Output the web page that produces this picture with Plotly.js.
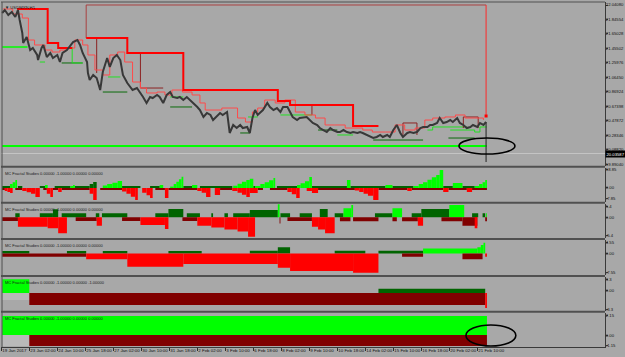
<!DOCTYPE html>
<html><head><meta charset="utf-8">
<script src="https://cdn.plot.ly/plotly-3.0.1.min.js"></script>
<style>html,body{margin:0;padding:0;background:#a8a8a8;}#chart{width:625px;height:357px;}</style>
</head><body><div id="chart"></div>
<script>
// ---- time axis (H1 bar index) ----
const tickHours = [0,32,64,96,128,160,192,224,256,288,320,352,384,416,448,480,512,544];
const tickLabels = ["19 Jan 2017","23 Jan 02:00","24 Jan 10:00","25 Jan 18:00","27 Jan 02:00","30 Jan 10:00","31 Jan 18:00","2 Feb 02:00","3 Feb 10:00","6 Feb 18:00","8 Feb 02:00","9 Feb 10:00","10 Feb 18:00","14 Feb 02:00","15 Feb 10:00","16 Feb 18:00","20 Feb 02:00","21 Feb 10:00"];

// ---- main price panel ----
const priceTickVals = [22.0408,21.84554,21.65028,21.45502,21.25976,21.0645,20.86924,20.67398,20.47872,20.28346,20.0882,19.8904];
const priceTickText = ["22.04080","21.84554","21.65028","21.45502","21.25976","21.06450","20.86924","20.67398","20.47872","20.28346","20.08820","19.89040"];
const priceHour = [1,4,8,12,16,18,19,21,24,25,29,33,36,41,42,46,48,52,56,59,64,67,70,75,79,82,87,90,93,98,99,101,105,109,113,116,121,124,128,132,136,139,144,147,150,155,159,162,166,170,173,178,181,185,189,193,196,201,204,208,212,216,219,224,227,231,235,239,242,247,250,253,258,261,265,269,273,276,281,284,287,290,293,299,304,307,311,315,319,322,327,330,333,338,341,349,353,356,361,364,368,372,376,379,384,387,391,395,399,402,407,410,413,418,421,425,429,433,436,441,444,448,452,456,459,464,467,471,475,479,482,487,490,493,498,501,505,509,513,516,521,524,528,532,536,539,544,547,551,554];
const priceClose = [21.933,21.973,21.906,21.946,21.879,21.946,21.973,21.838,21.663,21.528,21.609,21.433,21.460,21.366,21.298,21.460,21.501,21.339,21.393,21.325,21.366,21.271,21.393,21.433,21.501,21.541,21.568,21.501,21.393,21.271,21.123,21.028,21.096,21.055,20.893,21.136,21.325,21.204,21.325,21.366,21.298,21.096,20.988,20.934,20.893,20.920,20.853,20.799,20.718,20.799,20.785,20.826,20.799,20.718,20.826,20.866,20.799,20.785,20.799,20.758,20.799,20.758,20.718,20.664,20.623,20.529,20.583,20.556,20.488,20.556,20.583,20.556,20.596,20.313,20.421,20.380,20.421,20.380,20.394,20.313,20.515,20.623,20.556,20.623,20.718,20.664,20.623,20.650,20.596,20.664,20.664,20.596,20.529,20.488,20.515,20.529,20.488,20.448,20.421,20.380,20.353,20.326,20.380,20.353,20.326,20.326,20.353,20.326,20.313,20.326,20.313,20.326,20.313,20.286,20.259,20.245,20.259,20.286,20.259,20.286,20.259,20.353,20.421,20.313,20.259,20.313,20.326,20.313,20.326,20.380,20.394,20.394,20.421,20.421,20.448,20.515,20.448,20.461,20.488,20.461,20.515,20.448,20.421,20.380,20.394,20.421,20.394,20.448,20.421,20.461];
const lastBarHour = [554,554];
const lastBarRange = [20.461,19.921];
const bidPrice = 20.03587;

const upperMajorHour = [18,53,65,81,81,97,144,208,316,330,402,431];
const upperMajorLevel = [21.987,21.528,21.460,21.460,null,21.595,21.393,20.893,20.745,20.691,20.407,20.407];
const upperTopHour = [97,97,554];
const upperTopLevel = [21.595,22.041,22.041];
const upperLastHour = [554,554];
const upperLastLevel = [22.041,20.556];
const upperMinorHour = [2,13,24,31,38,50,58,67,75,84,93,99,107,116,124,133,141,150,159,166,178,187,195,207,218,227,233,242,252,259,270,279,287,293,301,313,324,336,347,359,370,381,393,404,413,424,439,450,461,473,484,493,507,519,530,541,551];
const upperMinorLevel = [21.987,21.919,21.865,21.568,21.501,21.433,21.406,21.433,21.460,21.568,21.501,21.366,21.163,21.096,21.366,21.406,21.271,21.001,20.920,20.853,20.866,20.826,20.893,20.866,20.826,20.718,20.623,20.623,20.650,20.650,20.515,20.461,20.596,20.650,20.758,20.718,20.758,20.596,20.556,20.515,20.421,20.421,20.380,20.380,20.353,20.326,20.326,20.421,20.353,20.380,20.488,20.515,20.529,20.556,20.515,20.515,20.488];
const upperDarkHour = [109,109,null,159,159,185,null,355,355,null,459,459,475,475,null,528,528,545,545];
const upperDarkLevel = [21.595,21.123,null,21.393,20.920,20.920,null,20.691,20.556,null,20.286,20.448,20.448,20.286,null,20.380,20.529,20.529,20.380];

const lowerMajorHour = [1,555];
const lowerMajorLevel = [20.137,20.137];
const lowerEarlyHour = [1,30];
const lowerEarlyLevel = [21.474,21.474];
const lowerMinorHour = [44,50,null,81,81,93,null,122,136,null,193,208,null,282,293,null,319,355,null,384,402,null,487,493,532,null,513,539,541,547,555];
const lowerMinorLevel = [21.271,21.271,null,21.474,21.258,21.258,null,21.069,21.069,null,20.799,20.799,null,20.529,20.529,null,20.556,20.556,null,20.286,20.286,null,20.353,20.394,20.394,null,20.353,20.353,20.326,20.394,20.394];
const lowerDarkHour = [69,93,null,116,144,null,193,218,null,273,284,null,362,384,null,425,482,null,511,541];
const lowerDarkLevel = [21.258,21.258,null,20.866,20.866,null,20.664,20.664,null,20.313,20.313,null,20.353,20.353,null,20.218,20.218,null,20.245,20.245];

// ---- indicator panels: [startHour, endHour, value] ----
const p1DarkGreen = [[1,10,2.1],[19,24,2.1],[44,50,2.1],[61,79,2.1],[84,101,2.1],[101,105,4.0],[105,109,6.2],[138,159,2.1],[170,181,2.1],[208,218,2.1],[227,264,2.1],[288,290,2.1],[315,338,2.1],[355,395,2.1],[399,439,2.1],[447,471,2.1],[505,516,2.1],[527,541,2.1]];
const p1Green = [[10,13,4.0],[13,16,6.0],[16,18,8.2],[50,53,3.1],[79,82,2.1],[82,84,3.1],[116,121,2.5],[121,127,4.0],[127,133,5.5],[133,138,7.2],[181,185,3.1],[193,197,1.5],[197,200,4.0],[200,203,6.5],[203,206,9.0],[206,208,11.6],[218,224,3.1],[265,270,2.4],[270,275,4.5],[275,280,6.5],[280,284,8.2],[284,288,9.5],[290,296,2.1],[296,301,4.0],[301,306,6.0],[306,311,8.0],[311,313,10.3],[338,342,3.1],[342,347,5.0],[347,352,7.0],[352,355,11.3],[395,399,8.2],[439,447,3.1],[471,477,2.1],[477,482,4.0],[482,487,6.0],[487,492,8.5],[492,497,11.0],[497,501,13.5],[501,505,18.5],[516,527,5.2],[541,546,2.1],[546,550,4.0],[550,553,6.0],[553,555,8.2]];
const p1DarkRed = [[1,4,-2.1],[16,24,-2.1],[48,52,-2.1],[59,65,-2.1],[69,101,-2.1],[113,138,-2.1],[176,187,-2.1],[191,224,-2.1],[250,264,-2.1],[293,299,-2.1],[307,327,-2.1],[362,404,-2.1],[431,464,-2.1],[469,505,-2.1],[511,532,-2.1],[538,555,-2.1]];
const p1Red = [[4,7,-3.0],[7,10,-4.0],[10,13,-5.2],[24,29,-3.0],[29,34,-4.5],[34,39,-6.0],[39,44,-9.3],[52,56,-6.0],[56,59,-9.3],[65,69,-4.1],[101,105,-6.0],[105,109,-12.4],[138,143,-3.5],[143,148,-6.0],[148,153,-9.0],[153,156,-12.4],[161,166,-5.0],[166,170,-7.5],[170,173,-10.3],[187,191,-10.3],[224,229,-3.0],[229,234,-5.0],[234,239,-9.3],[244,250,-7.2],[264,270,-3.0],[270,275,-5.0],[275,280,-7.0],[280,284,-9.3],[284,293,-5.2],[327,332,-4.0],[332,337,-6.5],[337,341,-10.3],[349,355,-3.0],[355,362,-5.2],[404,409,-2.5],[409,414,-4.0],[414,419,-6.0],[419,425,-8.0],[425,431,-12.4],[464,469,-3.1],[505,511,-4.1],[532,538,-4.1]];

const p2DarkGreen = [[16,21,2.0],[44,59,2.0],[59,65,3.9],[69,97,2.0],[108,112,2.0],[115,144,2.0],[176,191,2.0],[191,208,4.0],[212,227,2.0],[240,242,2.0],[255,259,2.0],[265,284,2.0],[284,316,3.6],[319,330,2.0],[341,355,2.0],[364,373,4.0],[381,391,2.0],[427,447,2.0],[469,480,2.0],[480,512,4.0],[538,545,2.0],[550,553,2.0]];
const p2Green = [[316,318,6.4],[391,400,4.4],[400,402,6.0],[447,458,4.4],[512,529,6.0],[554,555,2.0]];
const p2DarkRed = [[1,19,-1.8],[85,109,-1.8],[138,159,-1.8],[207,224,-1.8],[318,319,-3.0],[327,355,-1.8],[387,399,-2.0],[402,431,-2.0],[447,452,-2.0],[458,476,-2.0],[503,527,-2.0],[527,544,-4.1],[553,555,-2.0]];
const p2Red = [[19,53,-4.6],[53,65,-5.4],[65,75,-7.8],[109,115,-4.1],[159,187,-3.8],[187,191,-5.7],[224,240,-4.1],[240,255,-5.0],[255,270,-6.0],[270,282,-7.0],[282,290,-9.5],[355,362,-4.6],[362,370,-6.0],[370,381,-7.8],[476,482,-4.1],[541,544,-5.4]];

const p3DarkGreen = [[1,32,1.0],[75,97,1.0],[116,144,1.0],[191,229,1.0],[284,316,1.1],[316,330,2.6],[381,416,1.1],[431,482,1.1]];
const p3Green = [[482,544,2.1],[544,548,2.6],[548,551,3.5],[551,553,4.5]];
const p3DarkRed = [[1,97,-1.3],[458,482,-1.3],[527,550,-2.4]];
const p3Red = [[97,144,-2.4],[144,208,-5.5],[208,316,-4.3],[316,330,-5.9],[330,402,-7.2],[402,431,-8.0],[553,555,-1.3]];

const p4Green = [[1,32,3.3]];
const p4Gray = [[1,32,-1.7]];
const p4DarkGreen = [[431,553,1.0]];
const p4DarkRed = [[32,553,-2.9]];
const p4Red = [[553,555,-3.6]];

const p5Green = [[1,555,2.15]];
const p5Gray = [[1,32,-1.25]];
const p5DarkRed = [[32,555,-1.25]];

// ---- styling ----
const FONT = '"Liberation Sans", Arial, sans-serif';
const C = {green:'#00ff00', dgreen:'#006400', red:'#ff0000', dred:'#800000', gray:'#b9b9b9'};

function bars(segs, color, ya){
  return {type:'bar', xaxis:'x', yaxis:ya, x:segs.map(s=>s[0]), width:segs.map(s=>s[1]-s[0]), offset:0,
          y:segs.map(s=>s[2]), marker:{color:color, line:{width:0}}, hoverinfo:'skip'};
}
function line(x, y, color, w, shape){
  return {type:'scatter', mode:'lines', xaxis:'x', yaxis:'y', x:x, y:y, connectgaps:false,
          line:{color:color, width:w, shape:shape||'linear'}, hoverinfo:'skip'};
}

const traces = [
  line([-0.34,689.9],[bidPrice,bidPrice],'#c4c4c4',1),
  line(lowerMajorHour, lowerMajorLevel, '#00ff00', 2.2),
  line(lowerEarlyHour, lowerEarlyLevel, '#00ff00', 1.6),
  line(lowerDarkHour, lowerDarkLevel, '#0a6a0a', 1, 'hv'),
  line(lowerMinorHour, lowerMinorLevel, '#22e022', 1, 'hv'),
  line(upperTopHour, upperTopLevel, '#a84040', 1),
  line(upperLastHour, upperLastLevel, '#ff2a2a', 1),
  line(upperDarkHour, upperDarkLevel, '#8c2222', 1),
  line(upperMinorHour, upperMinorLevel, '#ff4a4a', 1, 'hv'),
  line(upperMajorHour, upperMajorLevel, '#ff0000', 2, 'hv'),
  line(priceHour, priceClose, '#383838', 2),
  line(lastBarHour, lastBarRange, '#383838', 1.2),
  {type:'scatter', mode:'markers', xaxis:'x', yaxis:'y', x:[554], y:[20.542], marker:{color:'#ff0000', size:3, symbol:'square'}, hoverinfo:'skip'},
  bars(p1DarkGreen,C.dgreen,'y2'), bars(p1Green,C.green,'y2'), bars(p1DarkRed,C.dred,'y2'), bars(p1Red,C.red,'y2'),
  bars(p2DarkGreen,C.dgreen,'y3'), bars(p2Green,C.green,'y3'), bars(p2DarkRed,C.dred,'y3'), bars(p2Red,C.red,'y3'),
  bars(p3DarkGreen,C.dgreen,'y4'), bars(p3Green,C.green,'y4'), bars(p3DarkRed,C.dred,'y4'), bars(p3Red,C.red,'y4'),
  bars(p4Green,C.green,'y5'), bars(p4Gray,C.gray,'y5'), bars(p4DarkGreen,C.dgreen,'y5'), bars(p4DarkRed,C.dred,'y5'), bars(p4Red,C.red,'y5'),
  bars(p5Green,C.green,'y6'), bars(p5Gray,C.gray,'y6'), bars(p5DarkRed,C.dred,'y6')
];

function yax(domain, range, vals, text){
  return {domain:domain, range:range, side:'right', anchor:'x', showgrid:false, zeroline:false,
          showline:true, linecolor:'#3a3a3a', linewidth:1, ticks:'outside', ticklen:2, tickcolor:'#3a3a3a',
          ticklabelstandoff:-3,
          tickvals:vals, ticktext:text, tickfont:{size:4.2, color:'#111', family:FONT}, fixedrange:true};
}
const sepY = [0.5226,0.4183,0.3130,0.2058,0.1023];
const shapes = sepY.map(y=>({type:'line', xref:'paper', yref:'paper', x0:0, x1:1, y0:y, y1:y, line:{color:'#505050', width:2}}));
shapes.push({type:'line', xref:'paper', yref:'paper', x0:0.0017, x1:0.0017, y0:0, y1:1, line:{color:'#505050', width:1}});
shapes.push({type:'line', xref:'paper', yref:'paper', x0:0, x1:1, y0:1, y1:1, line:{color:'#505050', width:1}});
shapes.push({type:'circle', xref:'x', yref:'y', x0:523, x1:587, y0:20.029, y1:20.245, line:{color:'#000', width:1.6}});
shapes.push({type:'circle', xref:'x', yref:'y6', x0:531, x1:588, y0:-1.24, y1:1.13, line:{color:'#000', width:1.6}});

const title = 'MC Fractal Studies 0.00000 -1.00000 0.00000 0.00000';
const titles = [0.5197,0.4154,0.3101,0.2029,0.0994];
const annotations = titles.map((t,i)=>({xref:'paper', yref:'paper', x:0.004, y:t-0.003, xanchor:'left', yanchor:'top', showarrow:false,
   text: i===3 ? 'MC Fractal Studies 0.00000 -1.00000 0.00000 -1.00000' : title, font:{size:4,color:'#1a1a1a',family:FONT}}));
annotations.push({xref:'paper', yref:'paper', x:0.004, y:0.998, xanchor:'left', yanchor:'top', showarrow:false,
   text:'\u25BC USDMXN,H1', font:{size:4.2,color:'#1a1a1a',family:FONT}});
annotations.push({xref:'paper', yref:'y', x:0.9995, y:bidPrice, xanchor:'left', yanchor:'middle', showarrow:false,
   text:'20.03587', bgcolor:'#000', borderpad:0.5, font:{size:4.2,color:'#fff',family:FONT}});

const layout = {
  width:625, height:357, margin:{l:1, r:20, t:2, b:10},
  paper_bgcolor:'#a8a8a8', plot_bgcolor:'#a8a8a8', showlegend:false, barmode:'overlay',
  xaxis:{range:[-0.34,689.9], anchor:'y6', tickvals:tickHours, ticktext:tickLabels, ticks:'outside', ticklen:3,
         tickangle:0, tickcolor:'#303030', ticklabelposition:'outside right', ticklabelstandoff:-1, tickfont:{size:4.4,color:'#111',family:FONT},
         showline:true, linecolor:'#3a3a3a', showgrid:false, zeroline:false, fixedrange:true},
  yaxis: yax([0.5255,1],[19.8713,22.0813], priceTickVals, priceTickText),
  yaxis2: yax([0.4209,0.5197],[-14.21,20.91],[18.85,0.3,-11.33],['18.85','0.00','-7.85']),
  yaxis3: yax([0.3154,0.4154],[-10.24,6.66],[5.39,0,-9.16],['5.4','0.00','-5.4']),
  yaxis4: yax([0.2081,0.3101],[-8.98,5.58],[4.47,-0.08,-7.78],['4.55','0.00','-7.55']),
  yaxis5: yax([0.1049,0.2029],[-4.29,3.86],[3.30,0.65,-3.86],['3.3','0.00','-3.3']),
  yaxis6: yax([0,0.0994],[-1.356,2.52],[2.15,-0.08,-1.15],['2.15','0.00','-1.15']),
  shapes:shapes, annotations:annotations
};
Plotly.newPlot('chart', traces, layout, {staticPlot:true, displayModeBar:false});
</script></body></html>
